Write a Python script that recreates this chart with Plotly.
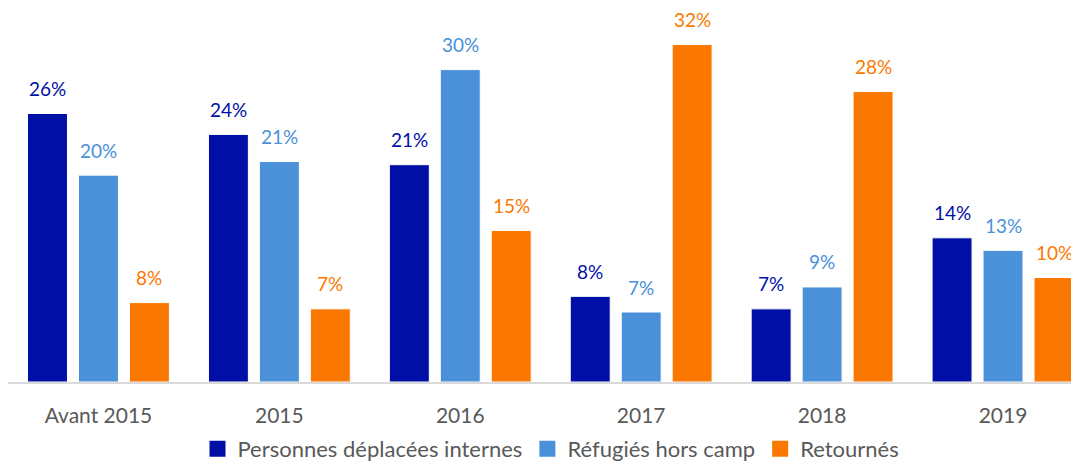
import plotly.graph_objects as go

categories = ["Avant 2015", "2015", "2016", "2017", "2018", "2019"]
series_names = ["Personnes déplacées internes", "Réfugiés hors camp", "Retournés"]
idp = [25.7, 23.7, 20.8, 8.2, 7.0, 13.8]
refugees = [19.8, 21.1, 29.9, 6.7, 9.1, 12.6]
returnees = [7.6, 7.0, 14.5, 32.3, 27.8, 10.0]
idp_labels = ["26%", "24%", "21%", "8%", "7%", "14%"]
refugees_labels = ["20%", "21%", "30%", "7%", "9%", "13%"]
returnees_labels = ["8%", "7%", "15%", "32%", "28%", "10%"]
colors = ["#0010A6", "#4A91DA", "#FB7800"]

series = [idp, refugees, returnees]
labels = [idp_labels, refugees_labels, returnees_labels]

fig = go.Figure()
for name, vals, col in zip(series_names, series, colors):
    fig.add_trace(go.Bar(x=categories, y=vals, name=name, marker_color=col,
                         marker_line=dict(color="white", width=1), showlegend=False))
# legend entries with large square swatches
for name, col in zip(series_names, colors):
    fig.add_trace(go.Scatter(x=[None], y=[None], mode="markers", name=name,
                             marker=dict(symbol="square", size=16, color=col)))

ann = []
for k, (vals, labs, col) in enumerate(zip(series, labels, colors)):
    for i, (v, t) in enumerate(zip(vals, labs)):
        ann.append(dict(x=i, y=v, text=t, showarrow=False, xshift=(k - 1) * 51,
                        yanchor="middle", yshift=25,
                        font=dict(family="Lato", size=19, color=col)))

fig.update_layout(
    width=1079, height=463,
    margin=dict(l=0, r=8, t=24, b=89, autoexpand=False),
    plot_bgcolor="white", paper_bgcolor="white",
    barmode="group", bargap=0.155, bargroupgap=0.216,
    annotations=ann,
    xaxis=dict(type="category", range=[-0.5, 5.42], showline=True, linecolor="#D9D9D9",
               linewidth=2, ticks="outside", ticklen=14, tickcolor="rgba(0,0,0,0)",
               automargin=False,
               tickfont=dict(family="Lato", size=21, color="#595959")),
    yaxis=dict(range=[0, 33.5], visible=False),
    legend=dict(orientation="h", x=0.507, xanchor="center", yref="container", y=0.0475,
                yanchor="middle",
                font=dict(family="Lato", size=22, color="#595959"),
                itemwidth=30, tracegroupgap=0),
)
fig.write_html("out.html")
